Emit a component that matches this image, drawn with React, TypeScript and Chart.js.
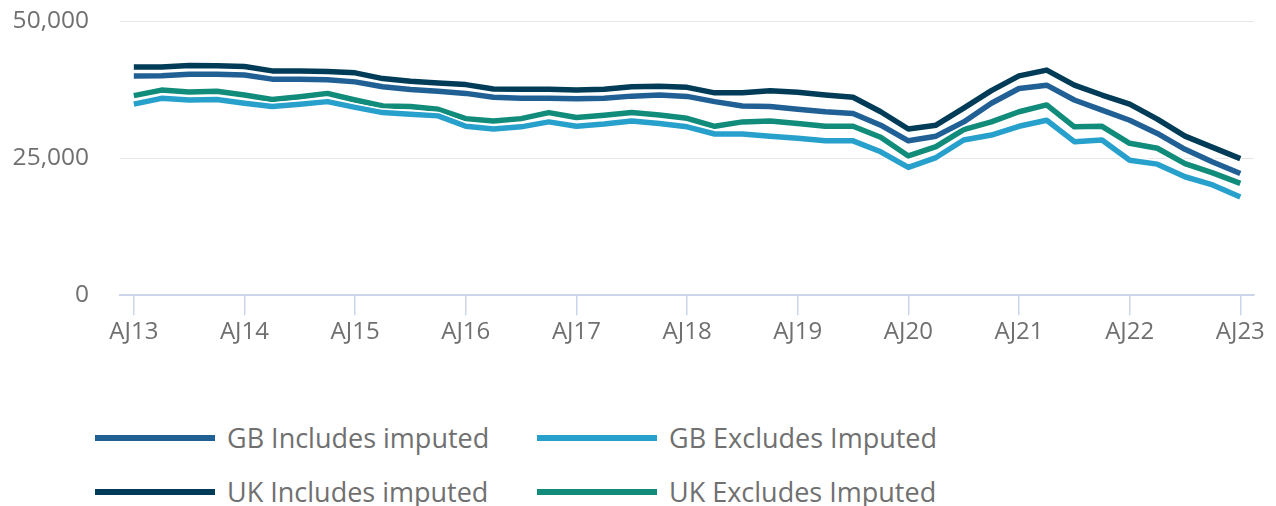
import React, { useEffect, useRef } from "react";
import { Chart, registerables } from "chart.js";

Chart.register(...registerables);

const categories: string[] = [
  "AJ13", "JS13", "OD13", "JM14",
  "AJ14", "JS14", "OD14", "JM15",
  "AJ15", "JS15", "OD15", "JM16",
  "AJ16", "JS16", "OD16", "JM17",
  "AJ17", "JS17", "OD17", "JM18",
  "AJ18", "JS18", "OD18", "JM19",
  "AJ19", "JS19", "OD19", "JM20",
  "AJ20", "JS20", "OD20", "JM21",
  "AJ21", "JS21", "OD21", "JM22",
  "AJ22", "JS22", "OD22", "JM23",
  "AJ23",
];

const gbIncludes: number[] = [
  39950, 40000, 40300, 40300, 40150, 39400, 39400, 39300, 38900, 38000,
  37500, 37200, 36800, 36100, 35900, 35900, 35800, 35900, 36300, 36500,
  36250, 35300, 34500, 34400, 33900, 33450, 33150, 31000, 28150, 29000,
  31600, 35000, 37700, 38300, 35600, 33750, 31900, 29500, 26600, 24300,
  22200,
];

const gbExcludes: number[] = [
  34850, 35900, 35600, 35700, 35000, 34400, 34800, 35300, 34250, 33300,
  33000, 32700, 30800, 30300, 30700, 31600, 30800, 31200, 31750, 31300,
  30700, 29400, 29400, 29000, 28600, 28150, 28150, 26150, 23300, 25100,
  28300, 29200, 30800, 31900, 28000, 28300, 24600, 23900, 21600, 20100,
  17900,
];

const ukIncludes: number[] = [
  41600, 41600, 41900, 41850, 41700, 40900, 40900, 40800, 40550, 39500,
  39000, 38700, 38400, 37600, 37550, 37550, 37400, 37550, 38000, 38100,
  37900, 36900, 36900, 37300, 37000, 36500, 36100, 33450, 30300, 31000,
  34100, 37300, 40000, 41050, 38300, 36500, 34850, 32100, 29000, 26950,
  24900,
];

const ukExcludes: number[] = [
  36400, 37400, 37050, 37200, 36500, 35700, 36200, 36800, 35600, 34500,
  34400, 33900, 32200, 31750, 32200, 33300, 32400, 32800, 33300, 32850,
  32250, 30800, 31600, 31750, 31300, 30800, 30800, 28800, 25400, 27100,
  30200, 31600, 33450, 34700, 30700, 30800, 27700, 26800, 24000, 22300,
  20400,
];

const yTicks: number[] = [0, 25000, 50000];

const seriesLabels: string[] = [
  "GB Includes imputed",
  "GB Excludes Imputed",
  "UK Includes imputed",
  "UK Excludes Imputed",
];
const seriesColors: string[] = ["#206095", "#27a0cc", "#003c57", "#118c7b"];
const seriesData: number[][] = [gbIncludes, gbExcludes, ukIncludes, ukExcludes];

const TEXT = "#707070";
const FONT = "'Open Sans', 'Noto Sans', sans-serif";

const outlinePlugin = {
  id: "whiteOutline",
  beforeDatasetDraw(chart: any, args: any) {
    const pts = args.meta.data;
    if (!pts || !pts.length) return;
    const ctx = chart.ctx;
    ctx.save();
    ctx.beginPath();
    pts.forEach((p: any, i: number) => (i ? ctx.lineTo(p.x, p.y) : ctx.moveTo(p.x, p.y)));
    ctx.strokeStyle = "#ffffff";
    ctx.lineWidth = 8.5;
    ctx.lineJoin = "round";
    ctx.lineCap = "butt";
    ctx.stroke();
    ctx.restore();
  },
};

export default function App() {
  const canvasRef = useRef<HTMLCanvasElement | null>(null);

  useEffect(() => {
    if (!canvasRef.current) return;
    const chart = new Chart(canvasRef.current, {
      type: "line",
      data: {
        labels: categories,
        datasets: seriesData.map((d, i) => ({
          label: seriesLabels[i],
          data: d,
          borderColor: seriesColors[i],
          backgroundColor: seriesColors[i],
          borderWidth: 5.5,
          borderJoinStyle: "round" as const,
          borderCapStyle: "butt" as const,
          pointRadius: 0,
          tension: 0,
          fill: false,
        })),
      },
      options: {
        animation: false,
        responsive: true,
        maintainAspectRatio: false,
        layout: { padding: { top: 13, right: 13, bottom: 2, left: 0 } },
        plugins: {
          legend: { display: false },
          tooltip: { enabled: false },
        },
        scales: {
          x: {
            type: "category",
            offset: true,
            grid: {
              display: true,
              drawOnChartArea: false,
              drawTicks: true,
              tickLength: 20,
              lineWidth: 1.5,
              color: (c: any) => (c.index % 4 === 0 ? "#ccd6eb" : "rgba(0,0,0,0)"),
            },
            border: { display: true, color: "#ccd6eb", width: 2 },
            ticks: {
              autoSkip: false,
              maxRotation: 0,
              minRotation: 0,
              padding: 3,
              color: TEXT,
              font: { family: FONT, size: 24 },
              callback: (_v: any, i: number) => (i % 4 === 0 ? categories[i] : ""),
            },
          },
          y: {
            min: yTicks[0],
            max: yTicks[yTicks.length - 1],
            afterFit: (s: any) => {
              s.width = 112;
            },
            afterBuildTicks: (s: any) => {
              s.ticks = yTicks.map((v) => ({ value: v }));
            },
            grid: {
              color: "#e6e6e6",
              drawTicks: true,
              tickLength: 31,
              tickColor: "rgba(0,0,0,0)",
              lineWidth: 1,
            },
            border: { display: false },
            ticks: {
              padding: 0,
              color: TEXT,
              font: { family: FONT, size: 24.5, lineHeight: 1 },
              callback: (v: any) => Number(v).toLocaleString("en-GB"),
            },
          },
        },
      },
      plugins: [outlinePlugin],
    });
    return () => chart.destroy();
  }, []);

  const legendRows = [
    { top: 430, items: [0, 1] },
    { top: 484, items: [2, 3] },
  ];
  const colLefts = [87, 529];

  return (
    <div style={{ position: "relative", width: 1260, height: 498, overflow: "hidden", fontFamily: FONT }}>
      <div style={{ position: "absolute", left: 0, top: 0, width: 1260, height: 344 }}>
        <canvas ref={canvasRef} />
      </div>
      {legendRows.map((row) =>
        row.items.map((si, ci) => (
          <div key={si}>
            <div
              style={{
                position: "absolute",
                left: colLefts[ci],
                top: row.top - 3,
                width: 120,
                height: 6,
                background: seriesColors[si],
              }}
            />
            <span
              style={{
                position: "absolute",
                left: colLefts[ci] + 132,
                top: row.top - 15,
                lineHeight: "30px",
                fontSize: 27,
                color: TEXT,
                whiteSpace: "nowrap",
              }}
            >
              {seriesLabels[si]}
            </span>
          </div>
        ))
      )}
    </div>
  );
}
